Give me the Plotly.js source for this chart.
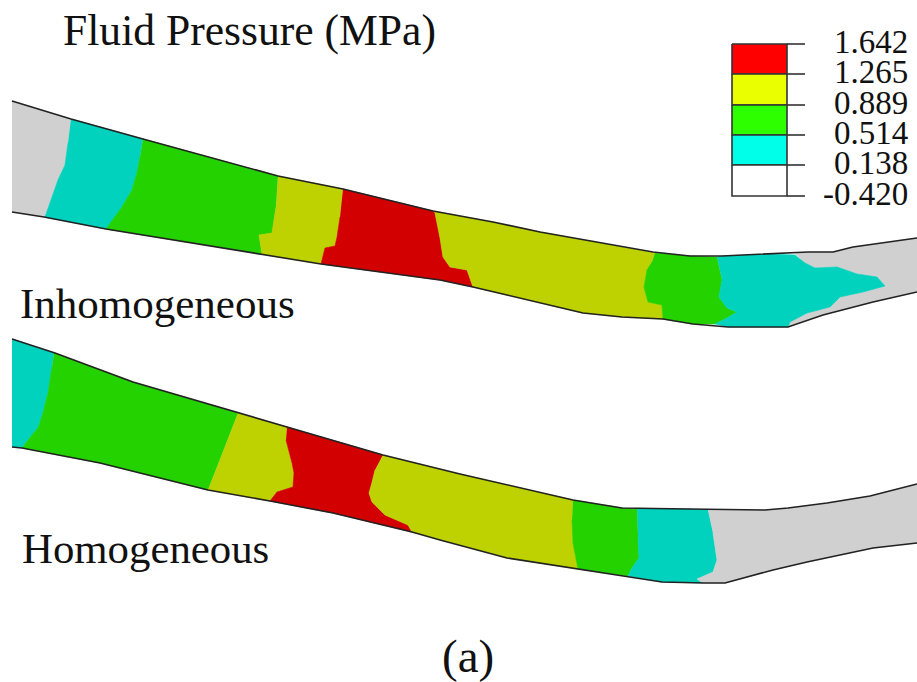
<!DOCTYPE html>
<html>
<head>
<meta charset="utf-8">
<script src="https://cdn.plot.ly/plotly-3.0.1.min.js"></script>
<style>html,body{margin:0;padding:0;background:#fff}#chart{width:917px;height:682px}</style>
</head>
<body>
<div id="chart"></div>
<script>
// Colours
var GRAY = '#d0d0d0', CYAN = '#00d2bd', GREEN = '#24d200', OLIVE = '#bdd200', RED = '#d20000';

// Legend
var legendLabels = ['1.642', '1.265', '0.889', '0.514', '0.138', '-0.420'];
var legendColors = ['#ff0000', '#eaff00', '#2dff00', '#00ffe8', '#ffffff'];
var legendLevels = [44, 74, 105, 135, 165, 196];

// Inhomogeneous band: outlines
var topAX = [12, 71, 143, 278, 343, 433, 493, 540, 653, 690, 722, 770, 808, 833, 853, 917];
var topAY = [101, 119, 139, 176, 189, 211, 222, 232, 252, 256, 256, 254, 252, 252, 247, 238];
var botAX = [12, 44, 106, 262, 321, 440, 473, 507, 583, 622, 663, 693, 728, 788, 823, 873, 917];
var botAY = [212, 217, 229, 254, 264, 280, 287, 295, 313, 317, 319, 324, 327, 327, 315, 302, 292];

// Inhomogeneous band: pressure zones
var a1X = [12, 71, 68, 65, 58, 52, 45, 12];
var a1Y = [101, 119, 143, 165, 180, 197, 217, 212];
var a2X = [71, 143, 140, 137, 132, 122, 115, 106, 44, 45, 52, 58, 65, 68];
var a2Y = [119, 139, 157, 173, 190, 207, 217, 229, 217, 217, 197, 180, 165, 143];
var a3X = [143, 278, 276, 272, 259, 262, 106, 115, 122, 132, 137, 140];
var a3Y = [139, 176, 207, 233, 235, 254, 229, 217, 207, 190, 173, 157];
var a4X = [278, 343, 340, 337, 335, 325, 321, 262, 259, 272, 276];
var a4Y = [176, 189, 217, 237, 246, 248, 264, 254, 235, 233, 207];
var a5X = [343, 433, 435, 440, 443, 450, 467, 473, 440, 321, 325, 335, 337, 340];
var a5Y = [189, 211, 213, 238, 257, 267, 270, 287, 280, 264, 248, 246, 237, 217];
var a6X = [433, 493, 540, 655, 652, 647, 644, 648, 662, 663, 622, 583, 507, 473, 467, 450, 443, 440, 435];
var a6Y = [211, 222, 232, 253, 262, 270, 287, 302, 305, 319, 317, 313, 295, 287, 270, 267, 257, 238, 213];
var a7X = [655, 690, 717, 722, 719, 727, 737, 727, 715, 693, 663, 662, 648, 644, 647, 652];
var a7Y = [253, 256, 257, 280, 297, 308, 312, 318, 324, 324, 319, 305, 302, 287, 270, 262];
var a8X = [717, 722, 770, 795, 805, 815, 837, 857, 877, 885, 863, 840, 830, 807, 790, 788, 728, 715, 727, 737, 727, 719, 722];
var a8Y = [257, 256, 254, 255, 263, 268, 267, 274, 277, 286, 292, 297, 307, 313, 322, 327, 327, 324, 318, 312, 308, 297, 280];
var a9X = [795, 808, 833, 853, 917, 917, 873, 823, 788, 790, 807, 830, 840, 863, 885, 877, 857, 837, 815, 805];
var a9Y = [254, 252, 252, 247, 238, 292, 302, 315, 327, 322, 313, 307, 297, 292, 286, 277, 274, 267, 268, 263];

// Homogeneous band: outlines
var topBX = [12, 55, 133, 238, 287, 383, 460, 573, 622, 688, 765, 788, 827, 870, 917];
var topBY = [339, 353, 382, 413, 427, 455, 474, 500, 508, 509, 510, 508, 503, 496, 484];
var botBX = [12, 22, 100, 208, 270, 333, 412, 440, 507, 578, 627, 662, 705, 725, 773, 807, 873, 917];
var botBY = [447, 448, 463, 490, 501, 513, 532, 540, 558, 569, 576, 582, 583, 583, 570, 562, 548, 543];

// Homogeneous band: pressure zones
var b1X = [12, 54, 52, 48, 43, 38, 32, 22, 12];
var b1Y = [339, 353, 367, 393, 413, 428, 435, 448, 447];
var b2X = [54, 133, 238, 208, 100, 22, 32, 38, 43, 48, 52];
var b2Y = [353, 382, 413, 490, 463, 448, 435, 428, 413, 393, 367];
var b3X = [238, 287, 286, 292, 294, 293, 277, 270, 208];
var b3Y = [413, 427, 440, 463, 473, 487, 492, 501, 490];
var b4X = [287, 383, 375, 372, 369, 372, 385, 408, 412, 333, 270, 277, 293, 294, 292, 286];
var b4Y = [427, 455, 470, 483, 493, 502, 515, 525, 532, 513, 501, 492, 487, 473, 463, 440];
var b5X = [383, 460, 573, 572, 573, 578, 507, 440, 412, 408, 385, 372, 369, 372, 375];
var b5Y = [455, 474, 500, 520, 543, 569, 558, 540, 532, 525, 515, 502, 493, 483, 470];
var b6X = [573, 622, 637, 638, 639, 632, 628, 578, 573, 572];
var b6Y = [500, 508, 509, 537, 558, 568, 576, 569, 543, 520];
var b7X = [637, 688, 708, 713, 717, 713, 697, 703, 662, 628, 632, 639, 638];
var b7Y = [509, 509, 510, 533, 560, 572, 579, 583, 582, 576, 568, 558, 537];
var b8X = [708, 765, 788, 827, 870, 917, 917, 873, 807, 773, 725, 703, 697, 713, 717, 713];
var b8Y = [510, 510, 508, 503, 496, 484, 543, 548, 562, 570, 583, 583, 579, 572, 560, 533];

var zones = [
  [a1X, a1Y, GRAY], [a2X, a2Y, CYAN], [a3X, a3Y, GREEN], [a4X, a4Y, OLIVE], [a5X, a5Y, RED],
  [a6X, a6Y, OLIVE], [a7X, a7Y, GREEN], [a9X, a9Y, GRAY], [a8X, a8Y, CYAN],
  [b1X, b1Y, CYAN], [b2X, b2Y, GREEN], [b3X, b3Y, OLIVE], [b4X, b4Y, RED],
  [b5X, b5Y, OLIVE], [b6X, b6Y, GREEN], [b7X, b7Y, CYAN], [b8X, b8Y, GRAY]
];

var traces = zones.map(function (z) {
  return {x: z[0], y: z[1], type: 'scatter', mode: 'lines', fill: 'toself', fillcolor: z[2],
          line: {color: z[2], width: 0.6}, hoverinfo: 'skip', showlegend: false};
});

[[topAX, topAY], [botAX, botAY], [topBX, topBY], [botBX, botBY]].forEach(function (o) {
  traces.push({x: o[0], y: o[1], type: 'scatter', mode: 'lines',
               line: {color: '#222222', width: 1.6}, hoverinfo: 'skip', showlegend: false});
});

// Legend swatches and ticks
legendColors.forEach(function (c, i) {
  traces.push({x: [732, 787, 787, 732, 732],
               y: [legendLevels[i], legendLevels[i], legendLevels[i + 1], legendLevels[i + 1], legendLevels[i]],
               type: 'scatter', mode: 'lines', fill: 'toself', fillcolor: c,
               line: {color: '#333333', width: 1.6}, hoverinfo: 'skip', showlegend: false});
});
legendLevels.forEach(function (v) {
  traces.push({x: [787, 805], y: [v, v], type: 'scatter', mode: 'lines',
               line: {color: '#333333', width: 1.6}, hoverinfo: 'skip', showlegend: false});
});

var SERIF = '"Liberation Serif", "Times New Roman", serif';
function label(text, x, y, size, anchor) {
  return {text: text, x: x, y: y, xref: 'x', yref: 'y', showarrow: false, xanchor: anchor || 'left',
          yanchor: 'middle', font: {family: SERIF, size: size, color: '#111111'}, borderpad: 0};
}

var annotations = [
  label('Fluid Pressure (MPa)', 62, 30, 43.6),
  label('Inhomogeneous', 19, 303, 43),
  label('Homogeneous', 21, 548, 42.8),
  label('(a)', 468, 656, 47, 'center')
];
legendLabels.forEach(function (t, i) {
  annotations.push(label(t, 909, legendLevels[i] - 2, 33, 'right'));
});

var layout = {
  width: 917, height: 682,
  margin: {l: 0, r: 0, t: 0, b: 0},
  paper_bgcolor: '#ffffff', plot_bgcolor: '#ffffff',
  showlegend: false,
  xaxis: {range: [0, 917], visible: false, fixedrange: true},
  yaxis: {range: [682, 0], visible: false, fixedrange: true},
  annotations: annotations
};

Plotly.newPlot('chart', traces, layout, {displayModeBar: false, staticPlot: true});
</script>
</body>
</html>
